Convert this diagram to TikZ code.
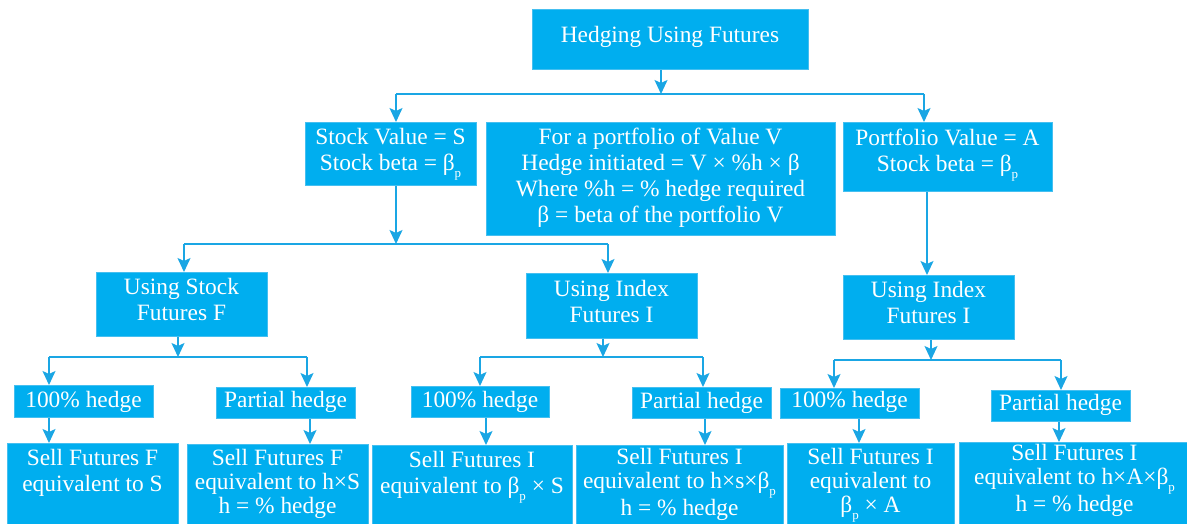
\documentclass[tikz,border=0pt]{standalone}
\usepackage{fontspec}
\setmainfont{Liberation Serif}
\usetikzlibrary{arrows.meta}
\definecolor{boxfill}{HTML}{00AEEF}
\definecolor{boxline}{HTML}{45BFF0}
\definecolor{conn}{HTML}{1AA6E4}
\newcommand\bsub{\raisebox{-7pt}{\fontsize{13}{13}\selectfont p}}
\newcommand\bp{β\bsub}
\tikzset{
  box/.style={draw=boxline, line width=0.8pt, fill=boxfill, text=white, align=center,
    font=\fontsize{23.4}{26}\selectfont, inner xsep=1pt, inner ysep=0pt, anchor=north},
  tight/.style={font=\fontsize{23.4}{24}\selectfont},
  arr/.style={draw=conn, line width=1.5pt, -{Stealth[length=14pt,width=13pt,inset=3pt]}},
  ln/.style={draw=conn, line width=1.5pt},
}
\begin{document}
\begin{tikzpicture}[x=1pt,y=-1pt]
\useasboundingbox (0,0) rectangle (1187,524);
\clip (0,0) rectangle (1187,524);
\fill[white] (0,0) rectangle (1187,524);
% level 0
\node[box, minimum width=276pt, text height=33pt, text depth=27pt] (top) at (670,9) {Hedging Using Futures};
% level 1
\node[box, minimum width=171pt, text height=48pt, text depth=15pt] (stock) at (390.5,122) {Stock Value = S\\Stock beta = \bp};
\node[box, minimum width=349pt, text height=100pt, text depth=13pt] (center) at (660.5,122) {For a portfolio of Value V\\Hedge initiated = V × \%h × β\\Where \%h = \% hedge required\\β = beta of the portfolio V};
\node[box, minimum width=209pt, text height=49pt, text depth=20pt] (port) at (947.5,122) {Portfolio Value = A\\Stock beta = \bp};
% level 2
\node[box, minimum width=171pt, text height=48pt, text depth=16pt] (usf) at (181.5,272) {Using Stock\\Futures F};
\node[box, minimum width=171pt, text height=49pt, text depth=16pt] (uic) at (611.5,273) {Using Index\\Futures I};
\node[box, minimum width=171pt, text height=48pt, text depth=16pt] (uir) at (928.5,275) {Using Index\\Futures I};
% level 3
\node[box, minimum width=139pt, text height=22pt, text depth=10pt] (hL) at (83.5,385) {100\% hedge};
\node[box, minimum width=139pt, text height=20pt, text depth=11pt] (pL) at (285.5,387) {Partial hedge};
\node[box, minimum width=138pt, text height=21pt, text depth=10pt] (hC) at (480,386) {100\% hedge};
\node[box, minimum width=139pt, text height=21pt, text depth=10pt] (pC) at (701.5,387) {Partial hedge};
\node[box, minimum width=139pt, text height=19pt, text depth=11pt] (hR) at (849.5,388) {100\% hedge};
\node[box, minimum width=139pt, text height=20pt, text depth=11pt] (pR) at (1060.5,390) {Partial hedge};
% level 4
\node[box, minimum width=171pt, text height=48pt, text depth=39pt] (s1) at (92.5,443) {Sell Futures F\\equivalent to S};
\node[box, tight, minimum width=181pt, text height=69pt, text depth=17pt] (s2) at (277.5,444) {Sell Futures F\\equivalent to h×S\\h = \% hedge};
\node[box, minimum width=200pt, text height=48pt, text depth=37pt] (s3) at (472,445) {Sell Futures I\\equivalent to \bp{} × S};
\node[box, tight, minimum width=207pt, text height=70pt, text depth=15pt] (s4) at (679.5,445) {Sell Futures I\\equivalent to h×s×\bp\\h = \% hedge};
\node[box, tight, minimum width=167pt, text height=69pt, text depth=18pt] (s5) at (870.5,443) {Sell Futures I\\equivalent to\\\bp{} × A};
\node[box, tight, minimum width=231pt, text height=69pt, text depth=19pt] (s6) at (1074.5,442) {Sell Futures I\\equivalent to h×A×\bp\\h = \% hedge};
% junction coordinates
\coordinate (j0) at (661,94);
\coordinate (a1) at (396,94);
\coordinate (a2) at (924,94);
\coordinate (j1) at (396,244);
\coordinate (b1) at (184,244);
\coordinate (b2) at (608,244);
\coordinate (c1) at (927,230);
\coordinate (j2) at (178,357);
\coordinate (d1) at (49,357);
\coordinate (d2) at (307,357);
\coordinate (j3) at (603,357);
\coordinate (e1) at (480,357);
\coordinate (e2) at (703,357);
\coordinate (j4) at (931,360);
\coordinate (f1) at (834,360);
\coordinate (f2) at (1061,360);
\coordinate (g1) at (49,430);
\coordinate (g2) at (310,430);
\coordinate (g3) at (486,430);
\coordinate (g4) at (705,430);
\coordinate (g5) at (859,430);
\coordinate (g6) at (1059,430);
% connectors level 0 -> 1
\draw[arr] (top.south -| j0) -- (j0);
\draw[ln] (a1) -- (a2);
\draw[arr] (a1) -- (stock.north -| a1);
\draw[arr] (a2) -- (port.north -| a2);
% level 1 -> 2
\draw[arr] (stock.south -| j1) -- (j1);
\draw[ln] (b1) -- (b2);
\draw[arr] (b1) -- (usf.north -| b1);
\draw[arr] (b2) -- (uic.north -| b2);
\draw[arr] (port.south -| c1) -- (uir.north -| c1);
% level 2 -> 3
\draw[arr] (usf.south -| j2) -- (j2);
\draw[ln] (d1) -- (d2);
\draw[arr] (d1) -- (hL.north -| d1);
\draw[arr] (d2) -- (pL.north -| d2);
\draw[arr] (uic.south -| j3) -- (j3);
\draw[ln] (e1) -- (e2);
\draw[arr] (e1) -- (hC.north -| e1);
\draw[arr] (e2) -- (pC.north -| e2);
\draw[arr] (uir.south -| j4) -- (j4);
\draw[ln] (f1) -- (f2);
\draw[arr] (f1) -- (hR.north -| f1);
\draw[arr] (f2) -- (pR.north -| f2);
% level 3 -> 4
\draw[arr] (hL.south -| g1) -- (s1.north -| g1);
\draw[arr] (pL.south -| g2) -- (s2.north -| g2);
\draw[arr] (hC.south -| g3) -- (s3.north -| g3);
\draw[arr] (pC.south -| g4) -- (s4.north -| g4);
\draw[arr] (hR.south -| g5) -- (s5.north -| g5);
\draw[arr] (pR.south -| g6) -- (s6.north -| g6);
\end{tikzpicture}
\end{document}
